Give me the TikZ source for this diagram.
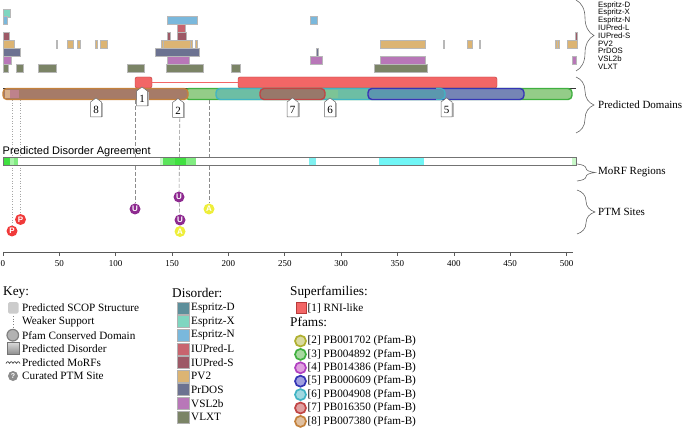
\documentclass[tikz,border=0pt]{standalone}
\usepackage{fontspec}
\setmainfont{Liberation Serif}
\setsansfont{Liberation Sans}
\usetikzlibrary{decorations.pathreplacing}
\definecolor{espD}{HTML}{5D8F9B}
\definecolor{espX}{HTML}{7FD6C0}
\definecolor{espN}{HTML}{7AB8DC}
\definecolor{iupL}{HTML}{C8646E}
\definecolor{iupS}{HTML}{9D5966}
\definecolor{pvtwo}{HTML}{DCB473}
\definecolor{prdos}{HTML}{6C7291}
\definecolor{vsl}{HTML}{B877B8}
\definecolor{vlxt}{HTML}{7B8466}
\definecolor{sfred}{HTML}{F26666}
\definecolor{sfdark}{HTML}{B83A3A}
\definecolor{pfAf}{HTML}{DADAA0}\definecolor{pfAd}{HTML}{B0B030}
\definecolor{pfBf}{HTML}{A8D8A0}\definecolor{pfBd}{HTML}{40B040}
\definecolor{pfCf}{HTML}{E0A0E0}\definecolor{pfCd}{HTML}{B040C0}
\definecolor{pfDf}{HTML}{A0A0E0}\definecolor{pfDd}{HTML}{3535B5}
\definecolor{pfEf}{HTML}{A0D8E0}\definecolor{pfEd}{HTML}{40B4C4}
\definecolor{pfFf}{HTML}{E0A0A0}\definecolor{pfFd}{HTML}{C04545}
\definecolor{pfGf}{HTML}{E0C0A0}\definecolor{pfGd}{HTML}{C4823C}
\definecolor{domGreen}{HTML}{94CC88}
\definecolor{domTeal}{HTML}{6DBEA4}
\definecolor{domGreenB}{HTML}{7CC496}
\definecolor{domRed}{HTML}{98786A}
\definecolor{domBlue}{HTML}{7585B5}
\definecolor{domBlueTeal}{HTML}{5B98AE}
\definecolor{domBrown}{HTML}{A67B68}
\definecolor{domTan}{HTML}{D8B08C}
\definecolor{domPink}{HTML}{BE828C}
\definecolor{ptmP}{HTML}{F03A3A}
\definecolor{ptmU}{HTML}{8E2A90}
\definecolor{ptmA}{HTML}{EEEE3A}
\definecolor{agG}{HTML}{40E040}
\definecolor{agGl}{HTML}{AAF4AA}
\definecolor{agGm}{HTML}{82EC82}
\definecolor{agGp}{HTML}{C8F8C8}
\definecolor{agGb}{HTML}{5AE45A}
\definecolor{agC}{HTML}{80F0F0}
\definecolor{agCb}{HTML}{70F5F5}
\newcommand\myfs[1]{\fontsize{#1}{#1}\selectfont}
\newcommand\trk[4]{\draw[trk,fill=#1] (#3,#2) rectangle (#4,#2+8);}
\newcommand\pflag[4]{%
  \fill[gray!55] (#2+5.5,#3+5) rectangle (#2+7,#3+19.5);
  \draw[flagsty] (#2-5.5,#3+4) -- (#2,#3) -- (#2+5.5,#3+4) -- (#2+5.5,#3+19) -- (#2-5.5,#3+19) -- cycle;
  \node[flagtxt] (#1) at (#2,#3+12) {#4};}
\begin{document}
\begin{tikzpicture}[x=1pt,y=-1pt,
  trk/.style={draw=black!28,line width=0.4pt},
  dom/.style={rounded corners=4pt,line width=1.4pt},
  sfbox/.style={draw=sfdark,line width=0.4pt,fill=sfred,rounded corners=2pt,inner sep=0pt,minimum height=11pt},
  flagsty/.style={draw=black!60,fill=white,line width=0.5pt},
  flagtxt/.style={font=\myfs{11},inner sep=0pt},
  ptm/.style={circle,inner sep=0pt,minimum size=11pt,text=white,font=\sffamily\bfseries\myfs{8}},
  ptmline/.style={draw=black!45,line width=0.6pt,dash pattern=on 4pt off 2pt},
  weakline/.style={draw=black!35,dotted,line width=0.6pt},
  brc/.style={decorate,decoration={brace,amplitude=18pt},draw=black!60,line width=0.6pt},
  trklbl/.style={anchor=west,inner sep=0pt,font=\sffamily\myfs{7.8}},
  seclbl/.style={anchor=west,inner sep=0pt,font=\myfs{11}},
  head/.style={anchor=west,inner sep=0pt,font=\myfs{13.3}},
  item/.style={anchor=west,inner sep=0pt,font=\myfs{11.2}},
  lsq/.style={draw=black!30,line width=0.4pt},
  pfc/.style={circle,line width=1.7pt,minimum size=11pt,inner sep=0pt}]
\useasboundingbox (0,0) rectangle (685,430);

% ---------- disorder tracks ----------
\trk{espX}{8.8}{3}{10}
\foreach \a/\b in {3/7,167/197,310/317} {\trk{espN}{16.5}{\a}{\b}}
\trk{iupL}{24.3}{177}{185}
\foreach \a/\b in {3/9,167/170,177/186,575/577} {\trk{iupS}{32}{\a}{\b}}
\foreach \a/\b in {3/14,56/57.5,67/73,77/80,95/97,100/107,161/163,163/190,190/192,195/197,380/425,443/444.5,467/472,479/480.5,555.5/557,557.5/559,567/577} {\trk{pvtwo}{40}{\a}{\b}}
\foreach \a/\b in {3/20,155/199,316/318} {\trk{prdos}{48}{\a}{\b}}
\foreach \a/\b in {3/11,167/189,310/322,380/425,572/576} {\trk{vsl}{56}{\a}{\b}}
\foreach \a/\b in {3/8,16/23,38/56,127/144,166/203,231/240,374/427} {\trk{vlxt}{64}{\a}{\b}}

% ---------- track labels ----------
\foreach \t [count=\i from 0] in {Espritz-D,Espritz-X,Espritz-N,IUPred-L,IUPred-S,PV2,PrDOS,VSL2b,VLXT}
  {\node[trklbl] (tl\i) at (598,5+7.7*\i) {\t};}

% ---------- braces ----------
\draw[brc] (576,0) -- (576,71);
\draw[brc] (576,77) -- (576,133);
\draw[brc] (577,164) -- (577,181);
\draw[brc] (577,190) -- (577,234);
\node[seclbl] (lblDom) at (598,105) {Predicted Domains};
\node[seclbl] (lblMorf) at (598,172.5) {MoRF Regions};
\node[seclbl] (lblPtm) at (598,212) {PTM Sites};

% ---------- PTM connector lines ----------
\coordinate (tP1) at (12,100);
\coordinate (tP2) at (20.5,100);
\coordinate (tU1) at (135,100);
\coordinate (tU2) at (180,100);
\coordinate (tA2) at (209,100);
\node[ptm,fill=ptmP] (P1) at (12,231) {P};
\node[ptm,fill=ptmP] (P2) at (20.5,219.5) {P};
\node[ptm,fill=ptmU] (U1) at (135,209) {U};
\node[ptm,fill=ptmU] (U2) at (179,197) {U};
\node[ptm,fill=ptmU] (U3) at (180,220) {U};
\node[ptm,fill=ptmA] (A1) at (180,231.5) {A};
\node[ptm,fill=ptmA] (A2) at (209,209) {A};
\draw[weakline] (tP1) -- (P1);
\draw[weakline] (tP2) -- (P2);
\draw[ptmline] (tU1) -- (U1);
\draw[ptmline] (tU2) -- (U2);
\draw[ptmline] (U2) -- (U3);
\draw[ptmline] (tA2) -- (A2);

% ---------- domain row ----------
\draw[black!80,line width=0.6pt] (3,88) -- (576,88);
\node[sfbox,minimum width=17pt] (sfA) at (143.5,82.5) {};
\node[sfbox,minimum width=259pt] (sfB) at (367.5,82.5) {};
\draw[sfred,line width=1.8pt] (sfA.east) -- (sfB.west);

\draw[dom,draw=pfBd,fill=domGreen] (185,88.5) rectangle (572,99.5);
\draw[dom,draw=pfEd,fill=domTeal] (216,88.5) rectangle (445,99.5);
\fill[domGreenB] (324,89.8) rectangle (338,98.2);
\draw[dom,draw=pfFd,fill=domRed] (260,88.5) rectangle (325,99.5);
\draw[dom,draw=pfDd,fill=domBlue] (368,88.5) rectangle (524,99.5);
\fill[domBlueTeal,rounded corners=3pt] (369.5,89.6) rectangle (445,98.4);
\draw[pfEd,line width=1.2pt,rounded corners=4pt] (436,88.6) -- (445,88.6) -- (445,99.4) -- (436,99.4);
\draw[dom,draw=pfGd,fill=domBrown] (3,88.5) rectangle (188,99.5);
\fill[domTan] (4.5,89.8) rectangle (10,98.2);
\fill[domPink] (10,89.8) rectangle (19,98.2);

\pflag{f8}{96}{98}{8}
\pflag{f1}{142}{87}{1}
\pflag{f2}{178}{98.5}{2}
\pflag{f7}{292.5}{98}{7}
\pflag{f6}{330}{98}{6}
\pflag{f5}{446.5}{98}{5}

% ---------- disorder agreement ----------
\node[anchor=west,inner sep=0pt,font=\sffamily\myfs{11}] (pda) at (2.5,151.5) {Predicted Disorder Agreement};
\fill[white] (3,157) rectangle (576,165);
\fill[agG] (3,157) rectangle (10,165);
\fill[agGl] (10,157) rectangle (14,165);
\fill[agGm] (14,157) rectangle (18,165);
\fill[agGp] (160,157) rectangle (163,165);
\fill[agGb] (163,157) rectangle (175,165);
\fill[agG] (175,157) rectangle (186,165);
\fill[agGm] (186,157) rectangle (196,165);
\fill[agC] (309,157) rectangle (316,165);
\fill[agCb] (379,157) rectangle (424,165);
\fill[agGp] (572,157) rectangle (576,165);
\draw[black!55,line width=0.7pt] (3,157) rectangle (576,165);

% ---------- axis ----------
\draw[black!65,line width=0.7pt] (3,252) -- (573,252);
\foreach \v in {0,50,...,500} {
  \pgfmathsetmacro\xx{3+1.127*\v}
  \draw[black!65,line width=0.6pt] (\xx,252) -- (\xx,256);
  \node[font=\myfs{9},inner sep=0pt] (ax\v) at (\xx,263.5) {\v};
}

% ---------- key ----------
\node[head] (keyh) at (3,293) {Key:};
\fill[black!20,rounded corners=1.5pt] (8,302) rectangle (18.5,313.5);
\draw[black!50,dotted,line width=0.7pt] (13,316) -- (13,328);
\draw[black!50,fill=black!30,line width=1.2pt] (12.8,335.2) circle (5.8pt);
\shade[top color=black!15,bottom color=black!45,draw=black!55] (7,342.5) rectangle (19,354.5);
\draw[black!80,line width=0.6pt] plot[domain=0:14,samples=50] ({6+\x},{363.5-1.8*abs(sin(\x*180/3.5))});
\node[circle,fill=black!45,inner sep=0pt,minimum size=10pt,text=white,font=\sffamily\bfseries\myfs{7}] (qm) at (13,376) {?};
\node[item] (k1) at (22,308) {Predicted SCOP Structure};
\node[item] (k2) at (22,321.6) {Weaker Support};
\node[item] (k3) at (22,335.2) {Pfam Conserved Domain};
\node[item] (k4) at (22,348.8) {Predicted Disorder};
\node[item] (k5) at (22,362.4) {Predicted MoRFs};
\node[item] (k6) at (22,376) {Curated PTM Site};

% ---------- disorder legend ----------
\node[head] (dish) at (172,293) {Disorder:};
\foreach \c/\t [count=\i from 0] in {espD/Espritz-D,espX/Espritz-X,espN/Espritz-N,iupL/IUPred-L,iupS/IUPred-S,pvtwo/PV2,prdos/PrDOS,vsl/VSL2b,vlxt/VLXT} {
  \pgfmathsetmacro\yy{308+13.6*\i}
  \draw[lsq,fill=\c] (177,\yy-6) rectangle (189,\yy+6);
  \node[item] (d\i) at (191,\yy) {\t};
}

% ---------- superfamilies / pfams ----------
\node[head] (sfh) at (290,292) {Superfamilies:};
\draw[draw=sfdark,fill=sfred,line width=0.5pt] (296,302.5) rectangle (306,313.5);
\node[item] (sf1) at (307.5,308) {[1] RNI-like};
\node[head] (pfh) at (290,322) {Pfams:};
\foreach \f/\d/\t [count=\i from 0] in {pfAf/pfAd/{[2] PB001702 (Pfam-B)},pfBf/pfBd/{[3] PB004892 (Pfam-B)},pfCf/pfCd/{[4] PB014386 (Pfam-B)},pfDf/pfDd/{[5] PB000609 (Pfam-B)},pfEf/pfEd/{[6] PB004908 (Pfam-B)},pfFf/pfFd/{[7] PB016350 (Pfam-B)},pfGf/pfGd/{[8] PB007380 (Pfam-B)}} {
  \pgfmathsetmacro\yy{341+13.4*\i}
  \node[pfc,draw=\d,fill=\f] (pc\i) at (300.5,\yy) {};
  \node[item] (pt\i) at (307.5,\yy) {\t};
}
\end{tikzpicture}
\end{document}
